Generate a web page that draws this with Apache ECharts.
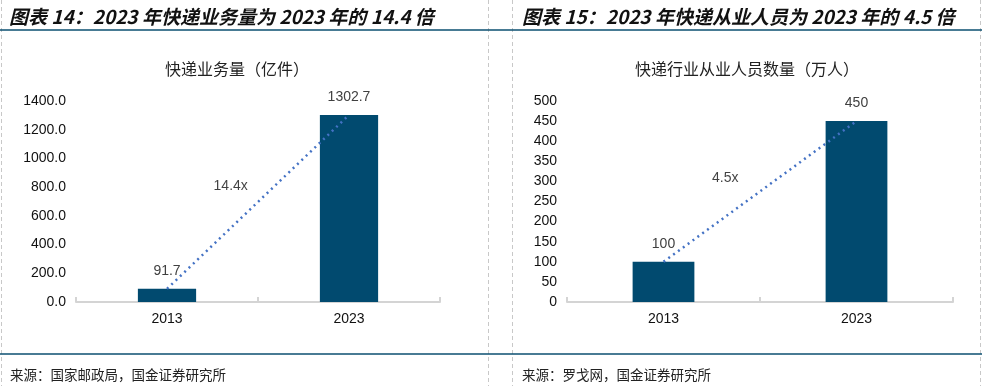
<!DOCTYPE html>
<html><head><meta charset="utf-8">
<script src="https://cdn.jsdelivr.net/npm/echarts@6/dist/echarts.min.js"></script>
<style>html,body{margin:0;padding:0;background:#fff}#c{width:982px;height:386px}</style>
</head><body><div id="c"></div>
<script>
const categories = ['2013', '2023'];
const volume = [91.7, 1302.7];
const staff = [100, 450];
const volTicks = [0, 200, 1400];
const staffTicks = [0, 50, 500];
const volMultiple = '14.4x';
const staffMultiple = '4.5x';
const volMultiplePos = [0.35, 808];
const staffMultiplePos = [0.32, 308];
const header1 = '图表 14：2023 年快递业务量为 2023 年的 14.4 倍';
const header2 = '图表 15：2023 年快递从业人员为 2023 年的 4.5 倍';
const sub1 = '快递业务量（亿件）';
const sub2 = '快递行业从业人员数量（万人）';
const src1 = '来源：国家邮政局，国金证券研究所';
const src2 = '来源：罗戈网，国金证券研究所';

const BAR = '#014A6F', LINE = '#4472C4', TEAL = '#0B4F71';
const num = 'Liberation Sans, Arial, sans-serif';
const cjk = 'Noto Sans CJK SC, sans-serif';

function xAx(gi){
  return {type:'category', gridIndex:gi, data:categories,
    axisLine:{lineStyle:{color:'#d4d4d4', width:2}},
    axisTick:{show:true, inside:true, length:5, lineStyle:{color:'#d4d4d4', width:2}},
    axisLabel:{color:'#111', fontFamily:num, fontSize:14, margin:10}};
}
function xHidden(gi){
  return {type:'value', gridIndex:gi, min:-0.5, max:1.5, show:false};
}
function yAx(gi, t, dec){
  return {type:'value', gridIndex:gi, min:t[0], interval:t[1], max:t[2],
    axisLine:{show:false}, axisTick:{show:false}, splitLine:{show:false},
    axisLabel:{color:'#111', fontFamily:num, fontSize:14, margin:10,
      formatter: v => dec ? v.toFixed(1) : String(v)}};
}
function bar(gi, d, dec){
  return {type:'bar', xAxisIndex:gi, yAxisIndex:gi, data:d, barWidth:'32%',
    itemStyle:{color:BAR},
    label:{show:true, position:'top', distance:11, color:'#404040', fontFamily:num, fontSize:14,
      formatter: p => dec ? p.value.toFixed(1) : String(p.value)}};
}
function line(gi, d){
  return {type:'line', xAxisIndex:gi, yAxisIndex:gi, data:d, symbol:'none', z:5,
    lineStyle:{color:LINE, width:2.5, type:[2,4]}};
}
function multLabel(axIdx, gi, mult, pos){
  return {type:'scatter', xAxisIndex:axIdx, yAxisIndex:gi, data:[pos], symbolSize:0, silent:true,
    label:{show:true, position:'inside', formatter:mult, color:'#111', fontFamily:num, fontSize:14}};
}
const vline = x => ({type:'line', shape:{x1:x,y1:0,x2:x,y2:386}, style:{stroke:'#c8c8c8', lineWidth:1, lineDash:[4,3]}});
const hline = (y) => ({type:'line', shape:{x1:0,y1:y,x2:982,y2:y}, style:{stroke:TEAL, lineWidth:1.5}});

const chart = echarts.init(document.getElementById('c'), null, {renderer:'canvas'});
chart.setOption({
  animation:false,
  title:[
    {text:header1, left:4, top:2, textStyle:{fontFamily:cjk, fontSize:19, fontWeight:'bold', fontStyle:'italic', color:'#111'}},
    {text:header2, left:517, top:2, textStyle:{fontFamily:cjk, fontSize:19, fontWeight:'bold', fontStyle:'italic', color:'#111'}},
    {text:sub1, left:232, top:56, textAlign:'center', textStyle:{fontFamily:cjk, fontSize:16, fontWeight:'normal', color:'#222'}},
    {text:sub2, left:742, top:56, textAlign:'center', textStyle:{fontFamily:cjk, fontSize:16, fontWeight:'normal', color:'#222'}},
    {text:src1, left:5, top:363, textStyle:{fontFamily:cjk, fontSize:13.5, fontWeight:'normal', color:'#222'}},
    {text:src2, left:517, top:363, textStyle:{fontFamily:cjk, fontSize:13.5, fontWeight:'normal', color:'#222'}}
  ],
  graphic:[vline(1.5), vline(488.5), vline(512.5), vline(980.5), hline(30), hline(354)],
  grid:[
    {left:76, right:542, top:101, bottom:84},
    {left:567, right:29, top:101, bottom:84}
  ],
  xAxis:[xAx(0), xAx(1), xHidden(0), xHidden(1)],
  yAxis:[yAx(0, volTicks, true), yAx(1, staffTicks, false)],
  series:[
    bar(0, volume, true), line(0, volume), multLabel(2, 0, volMultiple, volMultiplePos),
    bar(1, staff, false), line(1, staff), multLabel(3, 1, staffMultiple, staffMultiplePos)
  ]
});
</script></body></html>
